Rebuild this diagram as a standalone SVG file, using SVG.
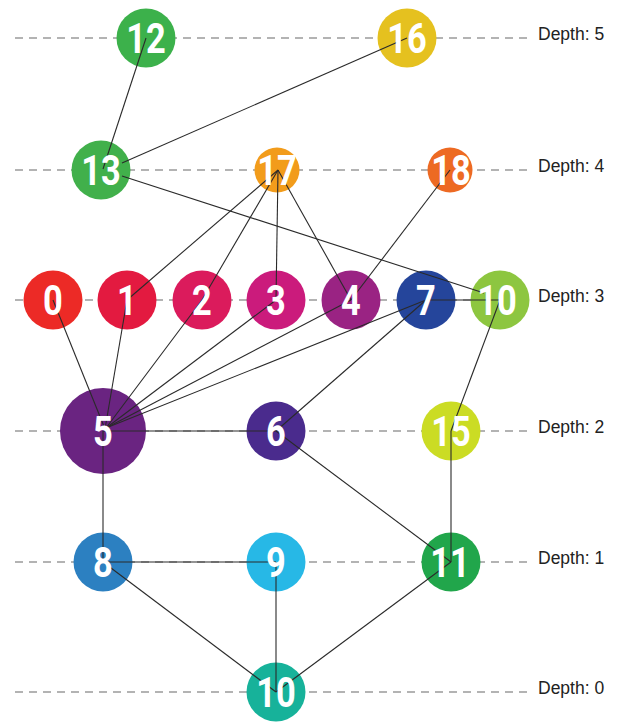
<svg xmlns="http://www.w3.org/2000/svg" width="620" height="724" viewBox="0 0 620 724">
<style>
.bg{fill:#ffffff}
.dash{stroke:#9a9a9a;stroke-width:1.3;stroke-dasharray:8 6;fill:none}
.lbl{font-family:"Liberation Sans",Arial,sans-serif;font-size:17.5px;fill:#222222}
.edge{stroke:#2a2a2a;stroke-width:1.1;fill:none}
.num{font-family:Roboto,"Liberation Sans",sans-serif;font-weight:bold;font-size:42px;fill:#ffffff;text-anchor:middle}
</style>
<rect class="bg" x="0" y="0" width="620" height="724"/>
<g id="depth-lines">
<line class="dash" x1="15" y1="38" x2="532" y2="38"/>
<line class="dash" x1="15" y1="170" x2="532" y2="170"/>
<line class="dash" x1="15" y1="300" x2="532" y2="300"/>
<line class="dash" x1="15" y1="431" x2="532" y2="431"/>
<line class="dash" x1="15" y1="562" x2="532" y2="562"/>
<line class="dash" x1="15" y1="692" x2="532" y2="692"/>
<text class="lbl" x="538" y="40">Depth: 5</text>
<text class="lbl" x="538" y="172">Depth: 4</text>
<text class="lbl" x="538" y="302">Depth: 3</text>
<text class="lbl" x="538" y="433">Depth: 2</text>
<text class="lbl" x="538" y="564">Depth: 1</text>
<text class="lbl" x="538" y="694">Depth: 0</text>
</g>
<g id="node-circles">
<circle id="c12" cx="146" cy="38" r="29.5" fill="#3cb14b"/>
<circle id="c16" cx="407" cy="38" r="29.5" fill="#e5c11f"/>
<circle id="c13" cx="101" cy="170" r="29.5" fill="#41b04b"/>
<circle id="c17" cx="277" cy="170" r="22.5" fill="#f29c1b"/>
<circle id="c18" cx="450" cy="170" r="22.5" fill="#ed6a23"/>
<circle id="c0" cx="53" cy="300" r="29.5" fill="#ec2a26"/>
<circle id="c1" cx="127" cy="300" r="29.5" fill="#e31a40"/>
<circle id="c2" cx="202" cy="300" r="29.5" fill="#db1b5c"/>
<circle id="c3" cx="276" cy="300" r="29.5" fill="#cb1b7c"/>
<circle id="c4" cx="351" cy="300" r="29.5" fill="#9a2383"/>
<circle id="c7" cx="426" cy="300" r="29.5" fill="#25459b"/>
<circle id="c10a" cx="500" cy="300" r="29.5" fill="#8dc640"/>
<circle id="c5" cx="103" cy="431" r="43" fill="#6a2481"/>
<circle id="c6" cx="276" cy="431" r="29.5" fill="#4a2b8d"/>
<circle id="c15" cx="451" cy="431" r="29.5" fill="#cbdc24"/>
<circle id="c8" cx="103" cy="562" r="29.5" fill="#2c80c1"/>
<circle id="c9" cx="276" cy="562" r="29.5" fill="#27b8e6"/>
<circle id="c11" cx="451" cy="562" r="29.5" fill="#21a64b"/>
<circle id="c10b" cx="276" cy="692" r="29.5" fill="#17b29a"/>
</g>
<g id="connectors">
<line class="edge" x1="146" y1="38" x2="103" y2="169"/>
<line class="edge" x1="407" y1="38" x2="122" y2="163"/>
<line class="edge" x1="122" y1="176" x2="484" y2="293"/>
<line class="edge" x1="278" y1="170" x2="127" y2="300"/>
<line class="edge" x1="278" y1="170" x2="202" y2="300"/>
<line class="edge" x1="278" y1="170" x2="276" y2="300"/>
<line class="edge" x1="278" y1="170" x2="351" y2="300"/>
<line class="edge" x1="450" y1="170" x2="351" y2="300"/>
<line class="edge" x1="426" y1="300" x2="500" y2="300"/>
<line class="edge" x1="53" y1="300" x2="105" y2="429"/>
<line class="edge" x1="127" y1="300" x2="105" y2="429"/>
<line class="edge" x1="202" y1="300" x2="106" y2="428"/>
<line class="edge" x1="276" y1="300" x2="106" y2="428"/>
<line class="edge" x1="351" y1="300" x2="106" y2="428"/>
<line class="edge" x1="426" y1="300" x2="106" y2="428"/>
<line class="edge" x1="426" y1="300" x2="276" y2="431"/>
<line class="edge" x1="500" y1="300" x2="451" y2="431"/>
<line class="edge" x1="103" y1="431" x2="276" y2="431"/>
<line class="edge" x1="103" y1="431" x2="103" y2="562"/>
<line class="edge" x1="276" y1="431" x2="451" y2="562"/>
<line class="edge" x1="451" y1="431" x2="451" y2="562"/>
<line class="edge" x1="103" y1="562" x2="276" y2="562"/>
<line class="edge" x1="103" y1="562" x2="276" y2="692"/>
<line class="edge" x1="276" y1="562" x2="276" y2="692"/>
<line class="edge" x1="451" y1="562" x2="276" y2="692"/>
</g>
<g id="node-12" transform="translate(146 38) scale(0.82 1)"><text class="num" x="0" y="15">12</text></g>
<g id="node-16" transform="translate(407 38) scale(0.82 1)"><text class="num" x="0" y="15">16</text></g>
<g id="node-13" transform="translate(101 170) scale(0.82 1)"><text class="num" x="0" y="15">13</text></g>
<g id="node-17" transform="translate(277 170) scale(0.82 1)"><text class="num" x="0" y="15">17</text></g>
<g id="node-18" transform="translate(451 170) scale(0.82 1)"><text class="num" x="0" y="15">18</text></g>
<g id="node-0" transform="translate(53 300) scale(0.82 1)"><text class="num" x="0" y="15">0</text></g>
<g id="node-1" transform="translate(127 300) scale(0.82 1)"><text class="num" x="0" y="15">1</text></g>
<g id="node-2" transform="translate(202 300) scale(0.82 1)"><text class="num" x="0" y="15">2</text></g>
<g id="node-3" transform="translate(276 300) scale(0.82 1)"><text class="num" x="0" y="15">3</text></g>
<g id="node-4" transform="translate(351 300) scale(0.82 1)"><text class="num" x="0" y="15">4</text></g>
<g id="node-7" transform="translate(426 300) scale(0.82 1)"><text class="num" x="0" y="15">7</text></g>
<g id="node-10-d3" transform="translate(497 300) scale(0.82 1)"><text class="num" x="0" y="15">10</text></g>
<g id="node-5" transform="translate(103 431) scale(0.82 1)"><text class="num" x="0" y="15">5</text></g>
<g id="node-6" transform="translate(276 431) scale(0.82 1)"><text class="num" x="0" y="15">6</text></g>
<g id="node-15" transform="translate(451 431) scale(0.82 1)"><text class="num" x="0" y="15">15</text></g>
<g id="node-8" transform="translate(103 562) scale(0.82 1)"><text class="num" x="0" y="15">8</text></g>
<g id="node-9" transform="translate(276 562) scale(0.82 1)"><text class="num" x="0" y="15">9</text></g>
<g id="node-11" transform="translate(450 562) scale(0.82 1)"><text class="num" x="0" y="15">11</text></g>
<g id="node-10-d0" transform="translate(276 692) scale(0.82 1)"><text class="num" x="0" y="15">10</text></g>
</svg>
